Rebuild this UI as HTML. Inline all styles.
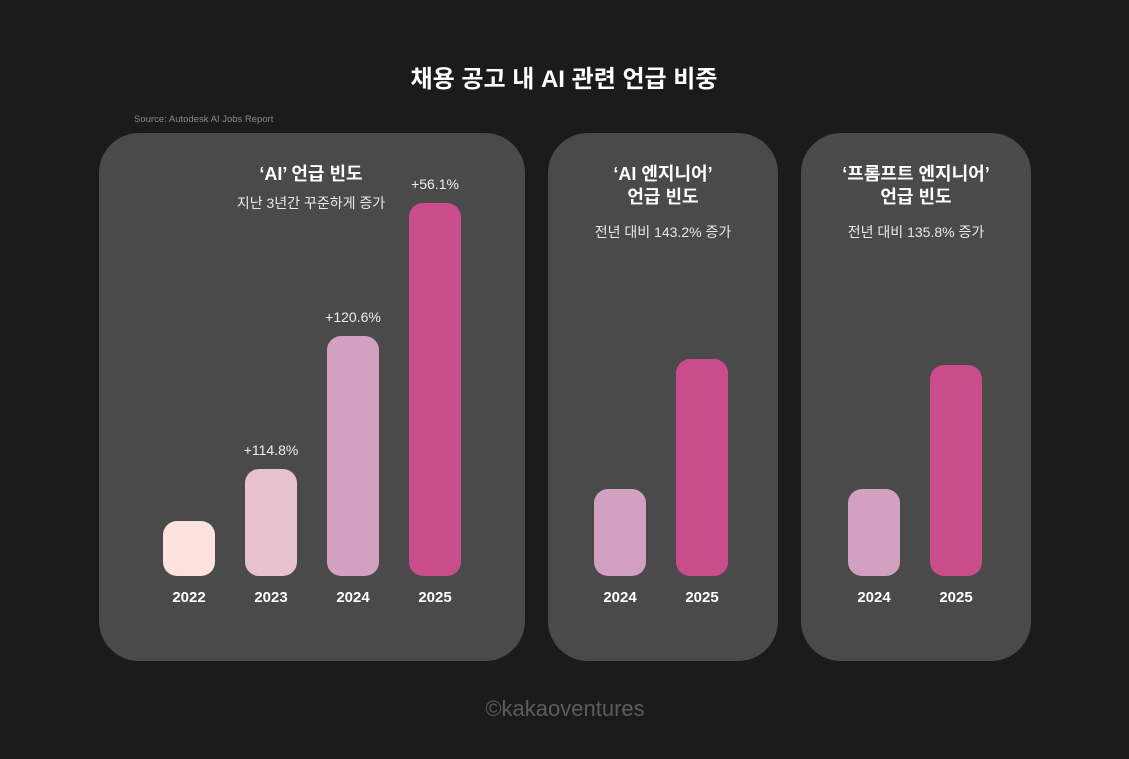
<!DOCTYPE html>
<html><head><meta charset="utf-8"><style>
body{margin:0;width:1129px;height:759px;background:#1b1b1b;font-family:"Liberation Sans","Noto Sans CJK KR",sans-serif;overflow:hidden;position:relative;color:#fff}
.abs{position:absolute}
.panel{position:absolute;background:#4a4a4a;border-radius:40px;top:133px;height:528px}
.t{position:absolute;text-align:center;white-space:nowrap;transform:translateX(-50%)}
</style></head><body>
<div class="t" style="left:564px;top:59px;font-size:24px;font-weight:bold">채용 공고 내 AI 관련 언급 비중</div>
<div class="abs" style="left:134px;top:114px;font-size:9.5px;color:#8a8a8a">Source: Autodesk AI Jobs Report</div>
<div class="panel" style="left:99px;width:426px"></div>
<div class="panel" style="left:548px;width:230px"></div>
<div class="panel" style="left:801px;width:230px"></div>
<div class="t" style="left:311px;top:160px;font-size:18px;font-weight:bold">‘AI’ 언급 빈도</div>
<div class="t" style="left:311px;top:193px;font-size:14px;color:#e8e8e8">지난 3년간 꾸준하게 증가</div>
<div class="t" style="left:663px;top:163px;font-size:18px;font-weight:bold;line-height:23px">‘AI 엔지니어’<br>언급 빈도</div>
<div class="t" style="left:663px;top:222px;font-size:14px;color:#e8e8e8">전년 대비 143.2% 증가</div>
<div class="t" style="left:916px;top:163px;font-size:18px;font-weight:bold;line-height:23px">‘프롬프트 엔지니어’<br>언급 빈도</div>
<div class="t" style="left:916px;top:222px;font-size:14px;color:#e8e8e8">전년 대비 135.8% 증가</div>
<div class="t" style="left:565px;top:696px;font-size:22px;color:#5c5c5c">©kakaoventures</div>
<div id="bars"></div>
<script>
const p1Years=["2022","2023","2024","2025"];
const p1Values=[55,107,240,373];
const p1Labels=["","+114.8%","+120.6%","+56.1%"];
const p2Years=["2024","2025"];
const p2Values=[87,217];
const p3Years=["2024","2025"];
const p3Values=[87,211];
const colors={"2022":"#fde3df","2023":"#e8c1cf","2024":"#d2a0c1","2025":"#c94c8b"};
const base=576, bw=52;
const root=document.getElementById('bars');
function draw(years,vals,labels,x0,step,name){
  years.forEach((y,i)=>{
    const x=x0+i*step, h=vals[i];
    const b=document.createElement('div');
    
    
    b.style.cssText=`position:absolute;left:${x}px;top:${base-h}px;width:${bw}px;height:${h}px;background:${colors[y]};border-radius:14px`;
    root.appendChild(b);
    const l=document.createElement('div');
    
    
    l.className='t';
    l.style.cssText=`left:${x+bw/2}px;top:589px;font-size:15px;font-weight:bold`;
    l.textContent=y;root.appendChild(l);
    if(labels&&labels[i]){
      const v=document.createElement('div');
      
      
      v.className='t';
      v.style.cssText=`left:${x+bw/2}px;top:${base-h-27}px;font-size:14px;color:#eee`;
      v.textContent=labels[i];root.appendChild(v);
    }
  });
}
draw(p1Years,p1Values,p1Labels,163,82,'panel1');
draw(p2Years,p2Values,null,594,82,'panel2');
draw(p3Years,p3Values,null,848,82,'panel3');
</script>
</body></html>
